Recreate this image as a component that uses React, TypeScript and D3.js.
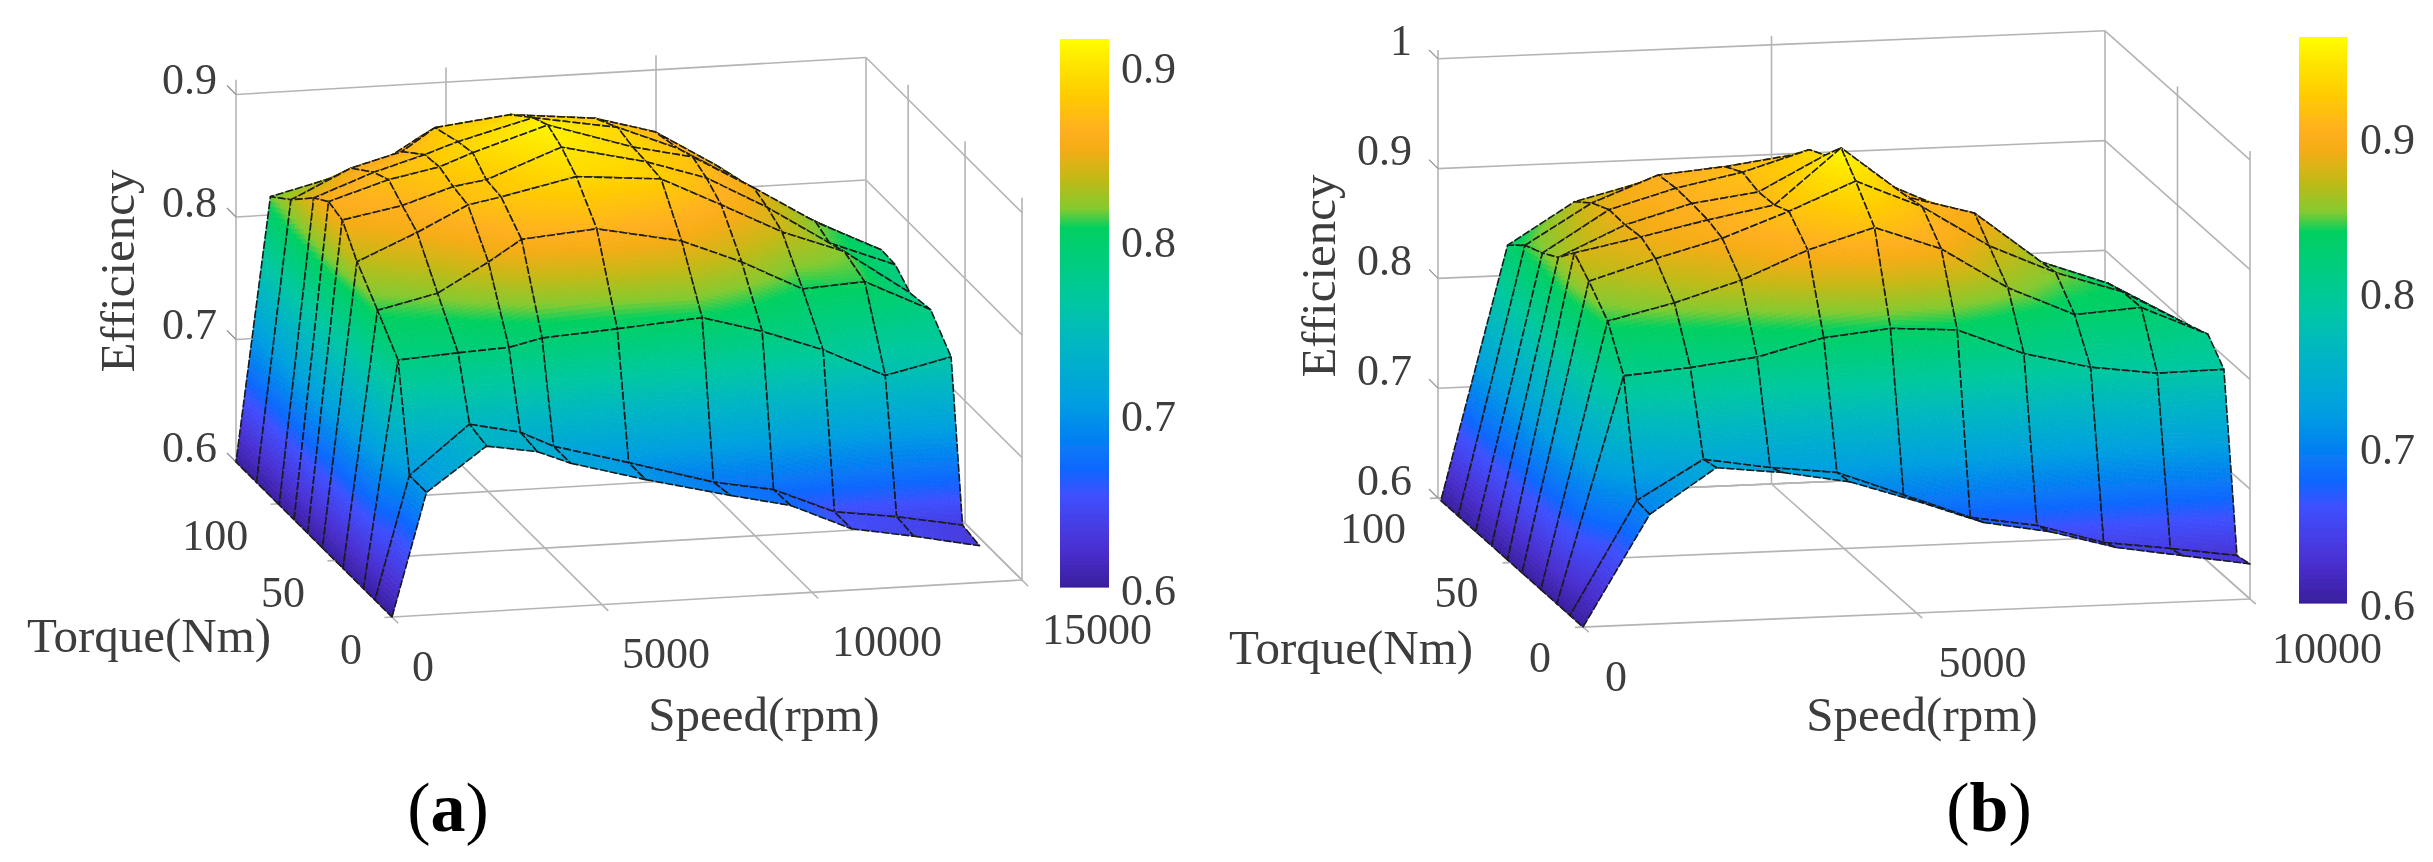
import React from "react";
import * as d3 from "d3";

// ---------- data ----------
const speedsA = [0, 820, 2250, 3460, 4250, 6040, 8060, 9490, 10940, 12420, 13990];
const torquesA = [0, 15, 25, 43, 61, 74, 86, 99, 119, 137];
const effA = [
  [0.6, 0.7, 0.735, 0.728, 0.717, 0.7, 0.683, 0.672, 0.65, 0.641, 0.63],
  [0.6, 0.7, 0.739, 0.73, 0.717, 0.7, 0.68, 0.671, 0.65, 0.643, 0.633],
  [0.6, 0.785, 0.788, 0.79, 0.796, 0.8, 0.805, 0.791, 0.773, 0.749, 0.761],
  [0.6, 0.809, 0.82, 0.843, 0.86, 0.865, 0.851, 0.831, 0.806, 0.809, 0.783],
  [0.6, 0.832, 0.853, 0.873, 0.878, 0.891, 0.885, 0.861, 0.836, 0.817, 0.78],
  [0.6, 0.854, 0.863, 0.876, 0.88, 0.903, 0.887, 0.871, 0.844, 0.812, 0.791],
  [0.6, 0.858, 0.873, 0.881, 0.891, 0.91, 0.888, 0.877, 0.849, 0.818, 0.792],
  [0.6, 0.849, 0.867, 0.879, 0.888, 0.904, 0.892, 0.872, 0.843, 0.812, 0.784],
  [0.6, 0.829, 0.852, 0.863, 0.881, 0.888, 0.881, 0.867, 0.837, 0.802, 0.771],
  [0.6, 0.815, 0.827, 0.838, 0.854, 0.865, 0.861, 0.852, 0.825, 0.789, 0.757],
];
const speedsB = [0, 1000, 2000, 3000, 4000, 5000, 6000, 7000, 8000, 9000, 10000];
const torquesB = [0, 9, 18, 29, 42, 52, 63, 74, 86, 98];
const effB = [
  [0.6, 0.7, 0.74, 0.733, 0.722, 0.702, 0.68, 0.669, 0.652, 0.642, 0.632],
  [0.6, 0.702, 0.737, 0.727, 0.72, 0.697, 0.674, 0.664, 0.646, 0.638, 0.629],
  [0.6, 0.805, 0.81, 0.817, 0.832, 0.838, 0.834, 0.81, 0.795, 0.787, 0.788],
  [0.6, 0.842, 0.856, 0.874, 0.899, 0.917, 0.895, 0.857, 0.83, 0.834, 0.807],
  [0.6, 0.863, 0.881, 0.897, 0.919, 0.944, 0.918, 0.88, 0.853, 0.833, 0.8],
  [0.6, 0.877, 0.889, 0.902, 0.913, 0.9625, 0.915, 0.898, 0.851, 0.829, 0.795],
  [0.6, 0.86, 0.887, 0.904, 0.912, 0.943, 0.912, 0.884, 0.841, 0.814, 0.78],
  [0.6, 0.851, 0.888, 0.905, 0.917, 0.935, 0.907, 0.864, 0.836, 0.8, 0.769],
  [0.6, 0.844, 0.88, 0.903, 0.908, 0.916, 0.898, 0.856, 0.831, 0.792, 0.762],
  [0.6, 0.83, 0.867, 0.882, 0.892, 0.893, 0.872, 0.847, 0.828, 0.785, 0.757],
];
const zTicksA = [0.6, 0.7, 0.8, 0.9];
const zTicksB = [0.6, 0.7, 0.8, 0.9, 1];
const sTicksA = [0, 5000, 10000, 15000];
const sTicksB = [0, 5000, 10000];
const tTicks = [0, 50, 100];
const cbTicks = [0.6, 0.7, 0.8, 0.9];

// colour map stops (fraction of the colour range -> colour)
const cmapPos = [0, 0.068, 0.168, 0.217, 0.34, 0.45, 0.524, 0.655, 0.69, 0.75, 0.8, 0.834, 0.898, 0.96, 1];
const cmapCol = ["#3a1f9e", "#4a2fd0", "#3f50ff", "#0a68ff", "#00a0e0", "#00b8c0", "#00c8a0", "#00d060", "#84ca30", "#c8b814", "#f5ac14", "#ffb020", "#ffcc00", "#ffe800", "#ffff00"];

// ---------- layout ----------
const FONT = "'Liberation Serif', serif";
const TEXT = "#3c3c3c";
const GRID = "#b4b4b4";

const panelA = {
  speeds: speedsA, torques: torquesA, eff: effA,
  sMax: 15000, tMax: 137, zTop: 0.9, zExt: 0.912, zTicks: zTicksA, sTicks: sTicksA,
  origin: [392, 617], sVec: [630, -37], tVec: [-156, -155], zPerTenth: 122.5,
  zLabel: [-19, -15], tLabel: [-30, 32], sLabel: [20, 49],
  torqueTitle: [149, 635], speedTitle: [764, 714], effTitle: [117, 271],
  cap: "a", capPos: [448, 807],
  cb: { x0: 1060, x1: 1109, y0: 39, y1: 587, zMax: 0.915, labelX: 1121 },
};
const panelB = {
  speeds: speedsB, torques: torquesB, eff: effB,
  sMax: 10000, tMax: 100, zTop: 1, zExt: 1.008, zTicks: zTicksB, sTicks: sTicksB,
  origin: [1583, 627], sVec: [667, -28], tVec: [-145, -129], zPerTenth: 109.8,
  zLabel: [-26, -18], tLabel: [-32, 30], sLabel: [22, 49],
  torqueTitle: [1351, 647], speedTitle: [1922, 714], effTitle: [1318, 276],
  cap: "b", capPos: [1989, 807],
  cb: { x0: 2299, x1: 2347, y0: 37, y1: 602, zMax: 0.9645, labelX: 2360 },
};

function Panel({ p }: { p: typeof panelA }) {
  const sx = d3.scaleLinear().domain([0, p.sMax]).range([0, p.sVec[0]]);
  const sy = d3.scaleLinear().domain([0, p.sMax]).range([0, p.sVec[1]]);
  const tx = d3.scaleLinear().domain([0, p.tMax]).range([0, p.tVec[0]]);
  const ty = d3.scaleLinear().domain([0, p.tMax]).range([0, p.tVec[1]]);
  const zy = d3.scaleLinear().domain([0.6, 0.7]).range([0, -p.zPerTenth]);
  const proj = (s: number, t: number, z: number): [number, number] => [
    p.origin[0] + sx(s) + tx(t),
    p.origin[1] + sy(s) + ty(t) + zy(z),
  ];
  const colorAt = d3.scaleLinear<string>()
    .domain(cmapPos.map((f) => 0.6 + f * (p.cb.zMax - 0.6)))
    .range(cmapCol)
    .clamp(true);
  const line = d3.line();

  // walls and floor
  const grid: [number, number][][] = [];
  const seg = (a: [number, number, number], b: [number, number, number]) => grid.push([proj(...a), proj(...b)]);
  p.zTicks.forEach((z) => {
    seg([0, p.tMax, z], [p.sMax, p.tMax, z]);
    seg([p.sMax, p.tMax, z], [p.sMax, 0, z]);
  });
  p.sTicks.forEach((s) => {
    if (s !== p.sMax) seg([s, p.tMax, 0.6], [s, p.tMax, p.zExt]);
    seg([s, -p.tMax * 0.04, 0.6], [s, p.tMax, 0.6]);
  });
  seg([p.sMax, p.tMax, 0.6], [p.sMax, p.tMax, p.zTop]);
  seg([p.sMax, 0, 0.6], [p.sMax, 0, p.zExt]);
  tTicks.forEach((t) => {
    if (t !== 0 && t < p.tMax) seg([p.sMax, t, 0.6], [p.sMax, t, p.zExt]);
    seg([-p.sMax * 0.012, t, 0.6], [p.sMax, t, 0.6]);
  });
  seg([0, p.tMax, 0.6], [p.sMax, p.tMax, 0.6]);
  const zTickMarks = p.zTicks.map((z) => {
    const [x, y] = proj(0, p.tMax, z);
    return [[x, y], [x - 9, y - 9]] as [number, number][];
  });

  // surface: far cells first, each cell split into small patches coloured by height
  const items: React.ReactNode[] = [];
  const nS = p.speeds.length;
  const nT = p.torques.length;
  for (let j = nT - 2; j >= 0; j--) {
    for (let i = nS - 2; i >= 0; i--) {
      const s0 = p.speeds[i], s1 = p.speeds[i + 1];
      const t0 = p.torques[j], t1 = p.torques[j + 1];
      const z00 = p.eff[j][i], z10 = p.eff[j][i + 1], z01 = p.eff[j + 1][i], z11 = p.eff[j + 1][i + 1];
      const zv = (u: number, v: number) => (1 - u) * (1 - v) * z00 + u * (1 - v) * z10 + (1 - u) * v * z01 + u * v * z11;
      const pt = (u: number, v: number) => proj(s0 + (s1 - s0) * u, t0 + (t1 - t0) * v, zv(u, v));
      const len = (a: [number, number], b: [number, number]) => Math.hypot(a[0] - b[0], a[1] - b[1]);
      const nu = Math.max(1, Math.min(60, Math.ceil(Math.max(len(pt(0, 0), pt(1, 0)), len(pt(0, 1), pt(1, 1))) / 5)));
      const nv = Math.max(1, Math.min(60, Math.ceil(Math.max(len(pt(0, 0), pt(0, 1)), len(pt(1, 0), pt(1, 1))) / 5)));
      for (let a = 0; a < nu; a++) {
        for (let b = 0; b < nv; b++) {
          const u0 = a / nu, u1 = (a + 1) / nu, v0 = b / nv, v1 = (b + 1) / nv;
          const c = colorAt(zv((u0 + u1) / 2, (v0 + v1) / 2));
          const d = line([pt(u0, v0), pt(u1, v0), pt(u1, v1), pt(u0, v1)]) + "Z";
          items.push(<path key={`${j}-${i}-${a}-${b}`} d={d} fill={c} stroke={c} strokeWidth={0.8} />);
        }
      }
      const outline = line([pt(0, 0), pt(1, 0), pt(1, 1), pt(0, 1)]) + "Z";
      items.push(
        <path key={`o${j}-${i}`} d={outline} fill="none" stroke="#1a1a1a" strokeWidth={1.6} strokeDasharray="8 2" strokeLinejoin="round" />
      );
    }
  }

  const cbScale = d3.scaleLinear().domain([0.6, p.cb.zMax]).range([p.cb.y1, p.cb.y0]);
  const cbRows = d3.range(p.cb.y0, p.cb.y1, 2);

  const tickStyle = { fontFamily: FONT, fontSize: 44, fill: TEXT };
  const titleStyle = { fontFamily: FONT, fontSize: 49, fill: TEXT };

  return (
    <g>
      {grid.map((g, i) => (
        <path key={i} d={line(g) as string} fill="none" stroke={GRID} strokeWidth={1.6} />
      ))}
      {zTickMarks.map((g, i) => (
        <path key={i} d={line(g) as string} fill="none" stroke="#909090" strokeWidth={1.2} />
      ))}
      {items}
      {p.zTicks.map((z) => {
        const [x, y] = proj(0, p.tMax, z);
        return (
          <text key={z} x={x + p.zLabel[0]} y={y + p.zLabel[1]} textAnchor="end" dominantBaseline="central" style={tickStyle}>
            {String(z)}
          </text>
        );
      })}
      {tTicks.map((t) => {
        const [x, y] = proj(0, t, 0.6);
        return (
          <text key={t} x={x + p.tLabel[0]} y={y + p.tLabel[1]} textAnchor="end" dominantBaseline="central" style={tickStyle}>
            {t}
          </text>
        );
      })}
      {p.sTicks.map((s) => {
        const [x, y] = proj(s, 0, 0.6);
        return (
          <text key={s} x={x + p.sLabel[0]} y={y + p.sLabel[1]} textAnchor="start" dominantBaseline="central" style={tickStyle}>
            {s}
          </text>
        );
      })}
      <text x={p.torqueTitle[0]} y={p.torqueTitle[1]} textAnchor="middle" dominantBaseline="central" style={titleStyle}>Torque(Nm)</text>
      <text x={p.speedTitle[0]} y={p.speedTitle[1]} textAnchor="middle" dominantBaseline="central" style={titleStyle}>Speed(rpm)</text>
      <text transform={`translate(${p.effTitle[0]},${p.effTitle[1]}) rotate(-90)`} textAnchor="middle" dominantBaseline="central" style={titleStyle}>Efficiency</text>
      <text x={p.capPos[0]} y={p.capPos[1]} textAnchor="middle" dominantBaseline="central" style={{ fontFamily: FONT, fontSize: 70, fill: "#000" }}>
        (<tspan fontWeight="bold">{p.cap}</tspan>)
      </text>
      {cbRows.map((y) => (
        <rect key={y} x={p.cb.x0} y={y} width={p.cb.x1 - p.cb.x0} height={2.6} fill={colorAt(cbScale.invert(y + 1))} />
      ))}
      {cbTicks.map((z) => (
        <text key={z} x={p.cb.labelX} y={cbScale(z) + 3} textAnchor="start" dominantBaseline="central" style={tickStyle}>
          {z}
        </text>
      ))}
    </g>
  );
}

export default function App() {
  return (
    <svg width={2433} height={862} style={{ position: "absolute", left: 0, top: 0, background: "#fff" }}>
      <defs>
        <filter id="soft" x="0" y="0" width="100%" height="100%">
          <feGaussianBlur stdDeviation="0.6" />
        </filter>
      </defs>
      <g filter="url(#soft)">
        <rect width={2433} height={862} fill="#fff" />
        <Panel p={panelA} />
        <Panel p={panelB as any} />
      </g>
    </svg>
  );
}
